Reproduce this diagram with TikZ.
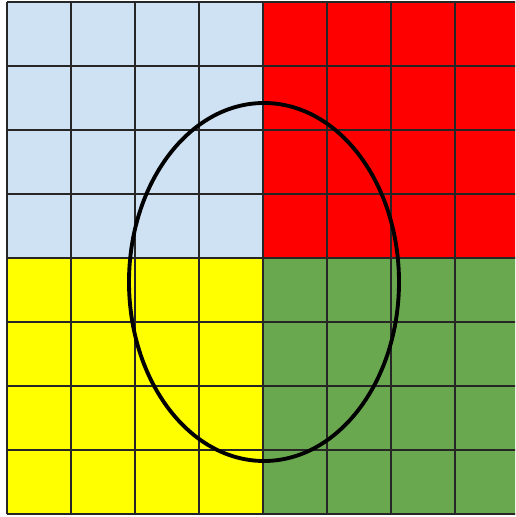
\documentclass[tikz,border=0pt]{standalone}
\usepackage{tikz}
\usepackage{xcolor}
\definecolor{qblue}{HTML}{CFE2F3}
\definecolor{qred}{HTML}{FF0000}
\definecolor{qyellow}{HTML}{FFFF00}
\definecolor{qgreen}{HTML}{6AA84F}

\begin{document}
\begin{tikzpicture}[
  x=0.02cm, y=0.02cm,
  quad/.style={draw=none},
  gridline/.style={line width=1.1pt, black!85},
  region/.style={line width=2.2pt, black},
]

\useasboundingbox (0,0) rectangle (515,517);
\clip (0,0) rectangle (515,517);

% Quadranten
\fill[quad, qblue]   (7,259) rectangle (263,515);
\fill[quad, qred]    (263,259) rectangle (519,515);
\fill[quad, qyellow] (7,3) rectangle (263,259);
\fill[quad, qgreen]  (263,3) rectangle (519,259);

% Raster 8x8
\foreach \i in {0,...,8} {
  \draw[gridline] (7+64*\i,3) -- (7+64*\i,515);
  \draw[gridline] (7,3+64*\i) -- (519,3+64*\i);
}

% Ellipse
\draw[region] (264,235) ellipse [x radius=135, y radius=179];

\end{tikzpicture}
\end{document}
